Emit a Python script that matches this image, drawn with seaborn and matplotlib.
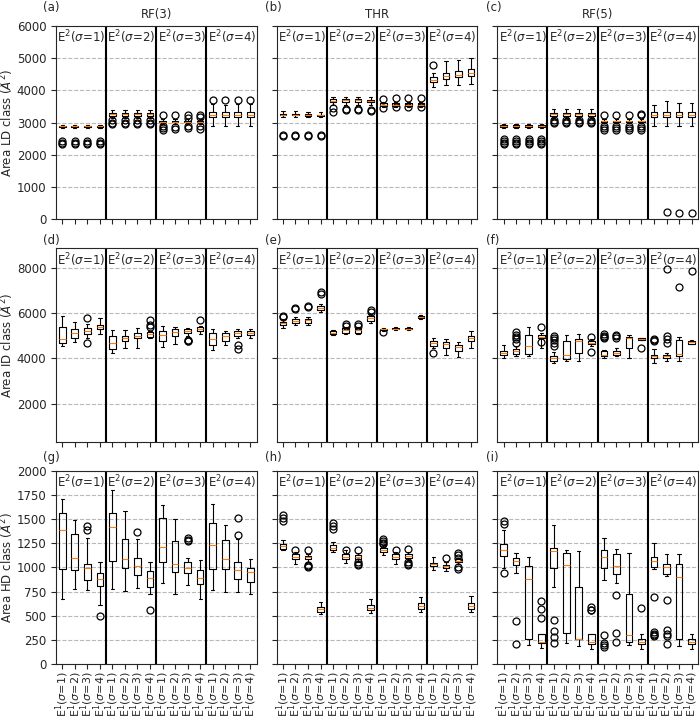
import numpy as np
import pandas as pd
import matplotlib
matplotlib.use("Agg")
import matplotlib.pyplot as plt
import seaborn as sns

# each box: (whisker low, q1, median, q3, whisker high), 16 boxes per panel
# order: E2(sigma=1..4) groups, each with E1(sigma=1..4)

# ---- row 1: Area LD class ----
a_boxes = [
    (2840, 2865, 2885, 2905, 2930), (2840, 2865, 2885, 2905, 2930), (2840, 2865, 2885, 2905, 2930), (2840, 2865, 2885, 2905, 2930),
    (3130, 3210, 3260, 3310, 3390), (3130, 3210, 3260, 3310, 3390), (3130, 3210, 3260, 3310, 3390), (3130, 3210, 3260, 3310, 3390),
    (2960, 3005, 3030, 3050, 3110), (2960, 3005, 3030, 3050, 3110), (2960, 3005, 3030, 3050, 3110), (2960, 3005, 3030, 3050, 3110),
    (2900, 3180, 3250, 3320, 3580), (2900, 3180, 3250, 3320, 3560), (2900, 3180, 3250, 3320, 3580), (2900, 3180, 3250, 3320, 3580),
]
a_fliers = [
    [2330, 2380, 2440], [2330, 2380, 2440], [2330, 2380, 2440], [2330, 2380, 2440],
    [2950, 3000, 3070], [2950, 3000, 3070], [2950, 3000, 3070], [2950, 3000, 3070],
    [3250, 2880, 2830, 2780], [3250, 2870, 2800], [3230, 3150, 2900, 2820], [3230, 3180, 2880, 2800],
    [3700], [3690], [3690], [3700],
]

b_boxes = [
    (3180, 3220, 3250, 3280, 3350), (3180, 3220, 3250, 3280, 3350), (3170, 3200, 3230, 3260, 3340), (3160, 3190, 3220, 3250, 3320),
    (3560, 3640, 3680, 3720, 3790), (3560, 3640, 3690, 3730, 3790), (3560, 3640, 3690, 3730, 3790), (3550, 3630, 3670, 3710, 3780),
    (3490, 3520, 3560, 3600, 3640), (3490, 3520, 3560, 3600, 3650), (3490, 3520, 3560, 3600, 3650), (3490, 3520, 3560, 3600, 3650),
    (4100, 4250, 4320, 4420, 4530), (4150, 4340, 4440, 4530, 4900), (4170, 4400, 4480, 4600, 4950), (4200, 4430, 4530, 4660, 5010),
]
b_fliers = [
    [2590, 2620], [2590, 2620], [2580, 2610], [2570, 2600],
    [3340, 3440], [3380, 3410], [3380, 3410], [3360, 3390],
    [3720, 3440], [3770, 3470], [3770, 3470], [3770, 3470],
    [4800], [], [], [],
]

c_boxes = [
    (2820, 2860, 2880, 2910, 2960), (2820, 2860, 2880, 2910, 2960), (2820, 2860, 2880, 2910, 2960), (2820, 2860, 2880, 2910, 2960),
    (3150, 3210, 3260, 3300, 3420), (3150, 3210, 3260, 3300, 3420), (3150, 3210, 3260, 3300, 3420), (3150, 3210, 3260, 3300, 3420),
    (2980, 3010, 3040, 3060, 3100), (2980, 3010, 3040, 3060, 3100), (2980, 3010, 3040, 3060, 3100), (2980, 3010, 3040, 3060, 3100),
    (2900, 3180, 3250, 3330, 3560), (2900, 3180, 3250, 3330, 3660), (2900, 3180, 3250, 3320, 3600), (2900, 3180, 3250, 3320, 3600),
]
c_fliers = [
    [2330, 2380, 2430, 2480], [2330, 2380, 2430, 2480], [2330, 2380, 2430, 2480], [2330, 2380, 2430, 2480],
    [2980, 3030, 3080], [2980, 3030, 3080], [2980, 3030, 3080], [2980, 3030, 3080],
    [3250, 2880, 2830, 2780], [3250, 2880, 2830, 2780], [3250, 2880, 2830, 2780], [3270, 3220, 2880, 2830, 2780],
    [], [230], [210], [210],
]

# ---- row 2: Area ID class ----
d_boxes = [
    (4530, 4700, 4880, 5380, 5880), (4730, 4900, 5120, 5290, 5630), (4900, 5100, 5230, 5360, 5500), (5070, 5280, 5370, 5470, 5780),
    (4260, 4410, 4670, 5000, 5250), (4480, 4780, 4890, 5000, 5260), (4480, 4890, 5000, 5140, 5360), (4900, 4950, 5100, 5170, 5230),
    (4510, 4780, 5030, 5220, 5440), (4630, 4980, 5190, 5280, 5390), (5000, 5140, 5220, 5290, 5360), (5100, 5220, 5320, 5390, 5440),
    (4370, 4590, 4850, 5130, 5320), (4590, 4780, 4980, 5140, 5220), (4920, 5000, 5130, 5220, 5320), (4920, 5040, 5140, 5220, 5280),
]
d_fliers = [
    [], [], [5770, 4670], [],
    [], [], [], [5690, 5480, 5400],
    [], [], [4820, 4780, 4750], [5690],
    [], [], [4600, 4430], [],
]

e_boxes = [
    (5360, 5470, 5550, 5630, 5730), (5470, 5570, 5660, 5730, 5830), (5480, 5550, 5690, 5760, 5850), (6070, 6130, 6240, 6310, 6390),
    (5040, 5070, 5140, 5220, 5270), (5100, 5140, 5250, 5330, 5370), (5070, 5140, 5250, 5360, 5400), (5580, 5660, 5770, 5880, 5950),
    (5200, 5250, 5290, 5320, 5360), (5250, 5280, 5320, 5340, 5380), (5250, 5280, 5320, 5340, 5380), (5750, 5780, 5820, 5860, 5900),
    (4480, 4560, 4690, 4780, 4890), (4160, 4480, 4630, 4730, 4850), (4070, 4340, 4510, 4600, 4730), (4450, 4750, 4890, 5000, 5220),
]
e_fliers = [
    [5880, 5830], [6230, 6190], [6320, 6260], [6940, 6850],
    [], [5500, 5440], [5540, 5440], [6140, 6050],
    [5150], [], [], [],
    [4260], [], [], [],
]

f_boxes = [
    (4040, 4150, 4230, 4310, 4590), (4100, 4220, 4320, 4410, 4550), (4130, 4190, 4560, 5030, 5410), (4450, 4890, 4950, 5030, 5140),
    (3810, 3900, 4000, 4120, 4300), (3870, 3970, 4150, 4780, 5030), (3900, 4240, 4780, 4850, 5070), (4560, 4630, 4700, 4780, 4850),
    (4010, 4090, 4160, 4310, 4380), (4090, 4160, 4230, 4310, 4460), (4040, 4480, 4890, 4950, 5040), (4800, 4820, 4860, 4890, 4920),
    (3800, 4000, 4090, 4160, 4410), (3900, 4040, 4090, 4160, 4250), (3900, 4120, 4190, 4810, 4950), (4640, 4660, 4730, 4780, 4820),
]
f_fliers = [
    [], [5150, 5050, 4950, 4850, 4700], [], [5400, 4730],
    [5000, 4900, 4800, 4700, 4560], [], [], [4960, 4270],
    [5070, 5000, 4950, 4900], [5050, 4980, 4920], [], [4480],
    [4880, 4830, 4790], [7930, 5000, 4850, 4680], [7160], [7850],
]

# ---- row 3: Area HD class ----
g_boxes = [
    (670, 980, 1385, 1565, 1705), (775, 970, 1095, 1345, 1495), (770, 870, 995, 1040, 1300), (610, 805, 880, 940, 1060),
    (775, 1070, 1415, 1560, 1805), (760, 990, 1085, 1290, 1585), (790, 925, 1015, 1100, 1290), (725, 800, 890, 960, 1055),
    (840, 1055, 1215, 1515, 1645), (730, 950, 1040, 1275, 1505), (815, 940, 995, 1060, 1100), (670, 825, 895, 975, 1080),
    (770, 980, 1235, 1455, 1660), (745, 980, 1085, 1285, 1440), (750, 880, 975, 1055, 1290), (730, 850, 955, 990, 1090),
]
g_fliers = [
    [], [], [1430, 1390], [500],
    [], [], [1365], [555],
    [], [], [1300, 1285, 1270], [],
    [], [], [1510, 1340], [],
]

h_boxes = [
    (1180, 1195, 1220, 1245, 1285), (1040, 1090, 1110, 1135, 1160), (1060, 1085, 1105, 1115, 1140), (515, 540, 570, 595, 645),
    (1160, 1180, 1205, 1230, 1265), (1050, 1090, 1110, 1135, 1180), (1060, 1090, 1110, 1125, 1150), (525, 560, 585, 610, 670),
    (1125, 1160, 1180, 1205, 1230), (1040, 1090, 1110, 1135, 1160), (1075, 1100, 1115, 1140, 1160), (540, 570, 605, 630, 695),
    (970, 1015, 1035, 1050, 1110), (965, 990, 1015, 1030, 1060), (1040, 1055, 1065, 1085, 1100), (540, 570, 605, 630, 705),
]
h_fliers = [
    [1540, 1510, 1480], [1180], [1180, 1030, 1010, 1000], [],
    [1460, 1430, 1400], [1185], [1185, 1060, 1040, 1025], [],
    [1290, 1270, 1255, 1240], [1180], [1190, 1060, 1040, 1030], [],
    [], [1095], [1150, 1125, 1100, 1000, 980], [],
]

i_boxes = [
    (990, 1120, 1185, 1240, 1385), (945, 1025, 1065, 1100, 1150), (195, 265, 885, 1015, 1110), (170, 215, 230, 310, 310),
    (800, 990, 1170, 1205, 1440), (215, 325, 1030, 1150, 1185), (190, 260, 255, 795, 1170), (160, 205, 225, 310, 315),
    (875, 990, 1110, 1185, 1300), (835, 930, 1015, 1135, 1190), (195, 230, 305, 725, 1150), (155, 205, 225, 260, 315),
    (980, 1005, 1065, 1105, 1255), (915, 930, 1000, 1040, 1140), (190, 260, 900, 1040, 1140), (155, 205, 225, 265, 315),
]
i_fliers = [
    [1480, 1450, 945], [445, 205], [], [655, 570, 480],
    [460, 340, 285, 220], [], [], [595, 565, 555],
    [300, 220, 200, 180], [715, 325, 225], [], [580],
    [690, 330, 315, 300, 290], [660, 350, 315, 290, 205], [], [],
]

col_titles = ["RF(3)", "THR", "RF(5)"]
panel_letters = ["(a)", "(b)", "(c)", "(d)", "(e)", "(f)", "(g)", "(h)", "(i)"]
row_labels = ["Area LD class ($\\AA^2$)", "Area ID class ($\\AA^2$)", "Area HD class ($\\AA^2$)"]
group_labels = ["E$^2$($\\sigma$=%d)" % k for k in range(1, 5)]
tick_labels = ["E$^1$($\\sigma$=%d)" % k for g in range(4) for k in range(1, 5)]

panels = [
    [(a_boxes, a_fliers), (b_boxes, b_fliers), (c_boxes, c_fliers)],
    [(d_boxes, d_fliers), (e_boxes, e_fliers), (f_boxes, f_fliers)],
    [(g_boxes, g_fliers), (h_boxes, h_fliers), (i_boxes, i_fliers)],
]
row_ylims = [(0, 6000), (330, 8860), (0, 2000)]
row_yticks = [np.arange(0, 6001, 1000), np.arange(2000, 8001, 2000), np.arange(0, 2001, 250)]

sns.set_style("ticks")
plt.rcParams["font.size"] = 8

fig, axes = plt.subplots(3, 3, figsize=(7, 7.18), dpi=100, sharey="row")
fig.subplots_adjust(left=0.08, right=0.997, top=0.964, bottom=0.075, wspace=0.1, hspace=0.15)


def draw_panel(ax, boxes, fliers):
    rows = [(i, v) for i, b in enumerate(boxes) for v in b]
    df = pd.DataFrame(rows, columns=["box", "value"])
    sns.boxplot(data=df, x="box", y="value", ax=ax, whis=(0, 100), width=0.53,
                fill=False, color="black", linecolor="black", linewidth=0.8,
                medianprops={"color": "#ff7f0e"}, showfliers=False)
    fx = [i for i, f in enumerate(fliers) for v in f]
    fy = [v for f in fliers for v in f]
    ax.plot(fx, fy, "o", mfc="none", mec="black", ms=5, mew=0.9, ls="none")


for r in range(3):
    for c in range(3):
        ax = axes[r, c]
        boxes, fliers = panels[r][c]
        draw_panel(ax, boxes, fliers)
        ax.set_xlim(-0.5, 15.5)
        ax.set_ylim(*row_ylims[r])
        ax.set_yticks(row_yticks[r])
        ax.yaxis.grid(True, ls="--", color="#b8b8b8", lw=0.8)
        ax.set_axisbelow(True)
        ax.tick_params(axis="y", labelsize=8.5)
        ax.tick_params(axis="x", labelsize=8, pad=2)
        for s in [3.5, 7.5, 11.5]:
            ax.axvline(s, color="black", lw=1.5)
        for g in range(4):
            ax.text(g * 4 - 0.5 + 0.1, 0.985, group_labels[g], transform=ax.get_xaxis_transform(),
                    ha="left", va="top", fontsize=8.5)
        ax.set_xticks(range(16))
        if r == 2:
            ax.set_xticklabels(tick_labels, rotation=90)
        else:
            ax.set_xticklabels([])
        ax.set_xlabel("")
        ax.set_ylabel(row_labels[r] if c == 0 else "", fontsize=8.5, labelpad=2)
        if r == 0:
            ax.set_title(col_titles[c], fontsize=8.5)

letter_y = [7, 240, 457]
letter_x = [43, 265, 486]
for r in range(3):
    for c in range(3):
        fig.text(letter_x[c] / 700, 1 - letter_y[r] / 718, panel_letters[r * 3 + c],
                 ha="left", va="center", fontsize=8.5)

fig.savefig("out.png", dpi=100)
